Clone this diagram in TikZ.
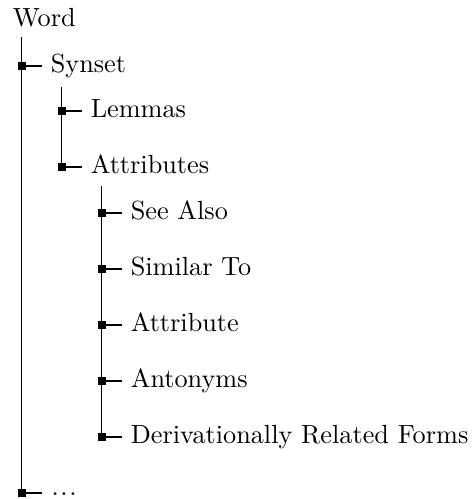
\documentclass[tikz,border=0pt]{standalone}
\begin{document}
\begin{tikzpicture}[x=0.381pt,y=-0.381pt,
  lbl/.style={anchor=base west,inner sep=0pt},
  sq/.style={rectangle,fill=black,draw=none,inner sep=0pt,minimum size=2.9pt},
  ln/.style={line width=0.45pt,black}]
\useasboundingbox (0,0) rectangle (473,499);
% root
\node[lbl] (word) at (12.3,26) {Word};
\coordinate (l1top) at (21.7,37);
% level 1
\node[sq] (s1) at (21.7,66) {};
\node[lbl] (synset) at (50.3,72.5) {Synset};
\node[sq] (s9) at (21.7,493) {};
\node[lbl] (dots) at (51,495.5) {.\kern0.6pt.\kern0.6pt.};
% level 2
\coordinate (l2top) at (61.7,87);
\node[sq] (s2) at (61.7,111) {};
\node[lbl] (lemmas) at (90.3,117.5) {Lemmas};
\node[sq] (s3) at (61.7,167) {};
\node[lbl] (attrs) at (90.3,173.5) {Attributes};
% level 3
\coordinate (l3top) at (101.7,186);
\node[sq] (s4) at (101.7,213) {};
\node[lbl] (see) at (130.3,219.5) {See Also};
\node[sq] (s5) at (101.7,269) {};
\node[lbl] (sim) at (130.3,275.5) {Similar To};
\node[sq] (s6) at (101.7,325) {};
\node[lbl] (attr) at (130.3,331.5) {Attribute};
\node[sq] (s7) at (101.7,381) {};
\node[lbl] (ant) at (130.3,387.5) {Antonyms};
\node[sq] (s8) at (101.7,437) {};
\node[lbl] (der) at (130.3,443.5) {Derivationally Related Forms};
% vertical lines
\draw[ln] (l1top) -- (s9.center);
\draw[ln] (l2top) -- (s3.center);
\draw[ln] (l3top) -- (s8.center);
% stubs
\foreach \s in {s1,s2,s3,s4,s5,s6,s7,s8,s9}
  \draw[ln] (\s.center) -- ++(20,0);
\end{tikzpicture}
\end{document}
